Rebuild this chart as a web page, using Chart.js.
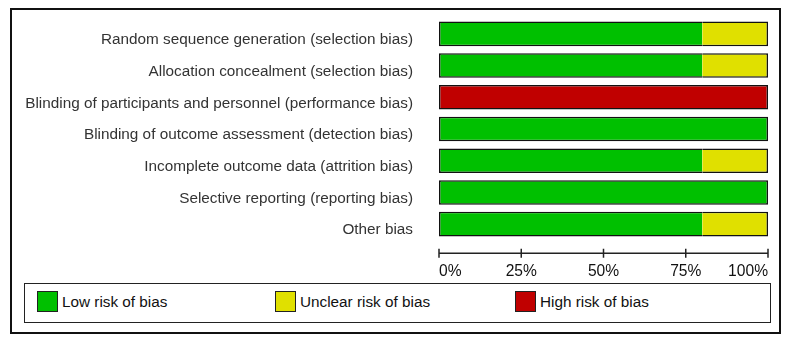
<!DOCTYPE html>
<html>
<head>
<meta charset="utf-8">
<script src="https://cdn.jsdelivr.net/npm/chart.js@4.4.1/dist/chart.umd.min.js"></script>
<style>
    body { margin: 0; background: #fff; font-family: "Liberation Sans", Arial, sans-serif; }
    #page { position: relative; width: 787px; height: 345px; }
    #outer-box { position: absolute; left: 10px; top: 8px; width: 771px; height: 326px; border: 2px solid #111; box-sizing: border-box; }
    #chart-box { position: absolute; left: 12px; top: 10px; width: 766px; height: 272px; }
    #legend-box { position: absolute; left: 24px; top: 283px; width: 747px; height: 40px; border: 1.5px solid #222; box-sizing: border-box; }
    .legend-item { position: absolute; top: 7px; display: flex; align-items: center; font-size: 15.3px; color: #111; }
    .legend-swatch { width: 21px; height: 21px; border: 1.2px solid #222; box-sizing: border-box; margin-right: 4px; }
</style>
</head>
<body>
<div id="page">
    <div id="outer-box"></div>
    <div id="chart-box"><canvas id="bias-chart"></canvas></div>
    <div id="legend-box"></div>
</div>
<script>
// domains (top to bottom)
const domains = [
    'Random sequence generation (selection bias)',
    'Allocation concealment (selection bias)',
    'Blinding of participants and personnel (performance bias)',
    'Blinding of outcome assessment (detection bias)',
    'Incomplete outcome data (attrition bias)',
    'Selective reporting (reporting bias)',
    'Other bias'
];

// percent of studies per judgement
const low_risk = [80, 80, 0, 100, 80, 100, 80];
const unclear_risk = [20, 20, 0, 0, 20, 0, 20];
const high_risk = [0, 0, 100, 0, 0, 0, 0];

const series_labels = ['Low risk of bias', 'Unclear risk of bias', 'High risk of bias'];
const series_colors = ['#00c000', '#e0e000', '#c00000'];

const x_ticks = [0, 25, 50, 75, 100];

const series_values = [low_risk, unclear_risk, high_risk];

// only outline the whole stacked bar, not the joins between segments
function skip_side(ctx) {
    const i = ctx.dataIndex;
    const ds = ctx.datasetIndex;
    let before = 0, after = 0;
    for (let k = 0; k < series_values.length; k++) {
        if (k < ds) before += series_values[k][i];
        if (k > ds) after += series_values[k][i];
    }
    if (before > 0 && after > 0) return 'middle';
    if (before > 0) return 'left';
    if (after > 0) return 'right';
    return false;
}

// x axis line drawn a bit below the last bar, like RevMan does
const axis_line_plugin = {
    id: 'axis_line',
    afterDraw(chart) {
        const x = chart.scales.x;
        const ctx = chart.ctx;
        const y = chart.chartArea.bottom + 13.3;
        ctx.save();
        ctx.strokeStyle = '#222';
        ctx.lineWidth = 1.5;
        ctx.beginPath();
        ctx.moveTo(x.left, y);
        ctx.lineTo(x.right, y);
        x_ticks.forEach(v => {
            const px = x.getPixelForValue(v);
            ctx.moveTo(px, y - 4.5);
            ctx.lineTo(px, y + 4.5);
        });
        ctx.stroke();
        ctx.restore();
    }
};

function no_padding(scale) {
    scale.paddingLeft = 0;
    scale.paddingRight = 0;
    scale.paddingTop = 0;
    scale.paddingBottom = 0;
}

const datasets = series_labels.map((label, k) => ({
    label: label,
    data: series_values[k],
    backgroundColor: series_colors[k],
    borderColor: '#111',
    borderWidth: (ctx) => ctx.raw > 0 ? 1.5 : 0,
    borderSkipped: skip_side,
    categoryPercentage: 1,
    barPercentage: 0.775
}));

new Chart(document.getElementById('bias-chart'), {
    type: 'bar',
    data: { labels: domains, datasets: datasets },
    options: {
        indexAxis: 'y',
        responsive: true,
        maintainAspectRatio: false,
        animation: false,
        layout: { padding: { top: 8, right: 10, left: 0, bottom: 0 } },
        plugins: {
            legend: { display: false },
            tooltip: { enabled: false }
        },
        scales: {
            x: {
                stacked: true,
                min: 0,
                max: 100,
                afterBuildTicks: (scale) => { scale.ticks = x_ticks.map(v => ({ value: v })); },
                afterFit: (scale) => { scale.height = 42; no_padding(scale); },
                grid: { display: false, drawTicks: false },
                border: { display: false },
                ticks: {
                    align: 'inner',
                    padding: 22,
                    color: '#111',
                    font: { family: '"Liberation Sans", Arial, sans-serif', size: 15.6 },
                    callback: (v) => v + '%'
                }
            },
            y: {
                stacked: true,
                afterFit: (scale) => { scale.width = 427; no_padding(scale); },
                grid: { display: false, drawTicks: false },
                border: { display: false },
                ticks: {
                    padding: 26,
                    labelOffset: 6,
                    color: '#333',
                    font: { family: '"Liberation Sans", Arial, sans-serif', size: 15.3 }
                }
            }
        }
    },
    plugins: [axis_line_plugin]
});

// legend in its own box under the plot
function fill_legend() {
    const box = document.getElementById('legend-box');
    const lefts = [12, 250, 490];
    series_labels.forEach((label, k) => {
        const item = document.createElement('div');
        item.className = 'legend-item';
        item.style.left = lefts[k] + 'px';
        item.innerHTML = `<span class="legend-swatch" style="background:${series_colors[k]}"></span><span>${label}</span>`;
        box.appendChild(item);
    });
}
fill_legend();
</script>
</body>
</html>
